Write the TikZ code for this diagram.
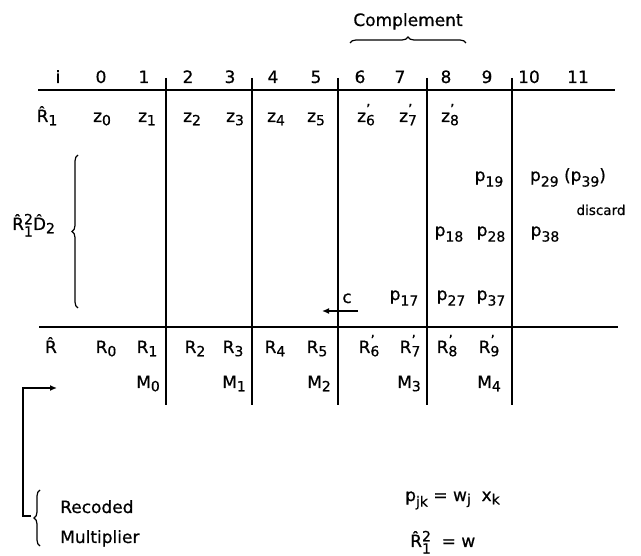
\documentclass[tikz,border=0pt]{standalone}
\usepackage{fontspec}
\setmainfont{DejaVu Sans}[FakeBold=0.6]
\usetikzlibrary{arrows.meta,decorations.pathreplacing}
\newcommand\subsz{\fontsize{14}{14}\selectfont}
\newcommand\lo[1]{\raisebox{-0.35ex}{\subsz #1}}
\newcommand\llo[1]{\raisebox{-0.6ex}{\subsz #1}}
\newcommand\pz[2]{#1\lo{\ooalign{\raisebox{1.45ex}{'}\cr#2}}}
\newcommand\supsub[2]{\raisebox{-0.7ex}{\subsz\ooalign{\raisebox{1.6ex}{#1}\cr#2}}}
\begin{document}
\begin{tikzpicture}[x=1pt,y=-1pt,
  lbl/.style={anchor=base,inner sep=0pt,font=\fontsize{17}{20}\selectfont},
  lblw/.style={anchor=base west,inner sep=0pt,font=\fontsize{17}{20}\selectfont},
  small/.style={anchor=base,inner sep=0pt,font=\fontsize{13.5}{15}\selectfont},
  rule/.style={line width=1.4pt},
  brc/.style={line width=1.2pt,decorate,decoration={brace,amplitude=6pt}},
  arr/.style={line width=1.4pt,-{Latex[length=7pt,width=6pt]}}]
\useasboundingbox (0,0) rectangle (641,556);
% frame lines
\draw[rule] (38,90) -- (615,90);
\draw[rule] (39,327) -- (618,327);
\foreach \x in {166,252,338,427,512} \draw[rule] (\x,78) -- (\x,405);
% complement
\node[lbl] (comp) at (408,26) {Complement};
\draw[brc] (350,43) -- (466,43);
% header
\node[lbl] (h0) at (58,83) {i};
\node[lbl] (h1) at (101,83) {0};
\node[lbl] (h2) at (144,83) {1};
\node[lbl] (h3) at (188,83) {2};
\node[lbl] (h4) at (230,83) {3};
\node[lbl] (h5) at (273,83) {4};
\node[lbl] (h6) at (316,83) {5};
\node[lbl] (h7) at (360,83) {6};
\node[lbl] (h8) at (400,83) {7};
\node[lbl] (h9) at (446,83) {8};
\node[lbl] (h10) at (487,83) {9};
\node[lbl] (h11) at (529,83) {10};
\node[lbl] (h12) at (578,83) {11};
% row R1
\node[lbl] (r1) at (47,122) {\^R\lo{1}};
\node[lbl] (z0) at (102,122) {z\lo{0}};
\node[lbl] (z1) at (147,122) {z\lo{1}};
\node[lbl] (z2) at (192,122) {z\lo{2}};
\node[lbl] (z3) at (235,122) {z\lo{3}};
\node[lbl] (z4) at (276,122) {z\lo{4}};
\node[lbl] (z5) at (316,122) {z\lo{5}};
\node[lbl] (z6) at (366,122) {\pz{z}{6}};
\node[lbl] (z7) at (408,122) {\pz{z}{7}};
\node[lbl] (z8) at (450,122) {\pz{z}{8}};
% partial products
\node[lblw] (rd) at (12,230) {\^R\supsub{2}{1}\^D\lo{2}};
\draw[brc] (78,308) -- (78,155);
\node[lbl] (p19) at (489,181) {p\llo{19}};
\node[lbl] (p29) at (568,181) {p\llo{29} (p\llo{39})};
\node[small] (disc) at (601,215) {discard};
\node[lbl] (p18) at (449,236) {p\llo{18}};
\node[lbl] (p28) at (491,236) {p\llo{28}};
\node[lbl] (p38) at (545,236) {p\llo{38}};
\node[lbl] (c) at (347,303) {c};
\node[lbl] (p17) at (404,300) {p\llo{17}};
\node[lbl] (p27) at (451,300) {p\llo{27}};
\node[lbl] (p37) at (491,300) {p\llo{37}};
\coordinate (cs) at (358,311);
\coordinate (ce) at (322,311);
\draw[arr] (cs) -- (ce);
% row R
\node[lbl] (rr) at (51,353) {\^R};
\node[lbl] (R0) at (106,353) {R\lo{0}};
\node[lbl] (R1) at (147,353) {R\lo{1}};
\node[lbl] (R2) at (195,353) {R\lo{2}};
\node[lbl] (R3) at (233,353) {R\lo{3}};
\node[lbl] (R4) at (275,353) {R\lo{4}};
\node[lbl] (R5) at (317,353) {R\lo{5}};
\node[lbl] (R6) at (369,353) {\pz{R}{6}};
\node[lbl] (R7) at (410,353) {\pz{R}{7}};
\node[lbl] (R8) at (447,353) {\pz{R}{8}};
\node[lbl] (R9) at (489,353) {\pz{R}{9}};
% row M
\node[lbl] (M0) at (148,388) {M\lo{0}};
\node[lbl] (M1) at (234,388) {M\lo{1}};
\node[lbl] (M2) at (319,388) {M\lo{2}};
\node[lbl] (M3) at (409,388) {M\lo{3}};
\node[lbl] (M4) at (489,388) {M\lo{4}};
% recoded multiplier
\draw[brc] (40,546) -- (40,490);
\node[lblw] (rec) at (60,513) {Recoded};
\node[lblw] (mul) at (60,543) {Multiplier};
\coordinate (ms) at (31,516);
\coordinate (mc1) at (23,516);
\coordinate (mc2) at (23,388);
\coordinate (me) at (57,388);
\draw[arr] (ms) -- (mc1) -- (mc2) -- (me);
% equations
\node[lblw] (eq1) at (405,501) {p\llo{jk} = w\lo{j}\ \ x\lo{k}};
\node[lblw] (eq2) at (410,547) {\^R\supsub{2}{1}\ \ = w};
\end{tikzpicture}
\end{document}
